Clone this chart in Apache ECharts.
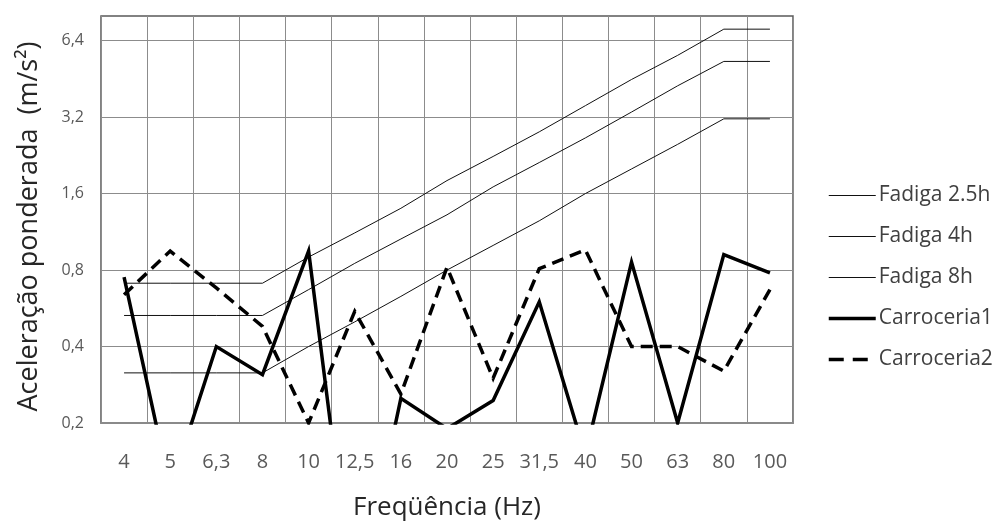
<!DOCTYPE html>
<html>
<head>
<meta charset="utf-8">
<script src="https://cdn.jsdelivr.net/npm/echarts@6/dist/echarts.min.js"></script>
<style>
html,body{margin:0;padding:0;background:#fff;}
#chart{width:998px;height:523px;}
</style>
</head>
<body>
<div id="chart"></div>
<script>
const categories = ['4','5','6,3','8','10','12,5','16','20','25','31,5','40','50','63','80','100'];
const yTicks = [0.2, 0.4, 0.8, 1.6, 3.2, 6.4];
const fadiga25 = [0.71,0.71,0.71,0.71,0.9,1.12,1.4,1.8,2.24,2.8,3.55,4.5,5.6,7.1,7.1];
const fadiga4  = [0.53,0.53,0.53,0.53,0.67,0.85,1.06,1.32,1.7,2.12,2.65,3.35,4.25,5.3,5.3];
const fadiga8  = [0.315,0.315,0.315,0.315,0.4,0.5,0.63,0.8,1.0,1.25,1.6,2.0,2.5,3.15,3.15];
const carroceria1 = [0.75,0.11,0.40,0.31,0.95,0.035,0.25,0.19,0.245,0.60,0.15,0.86,0.2,0.92,0.78];
const carroceria2 = [0.64,0.95,0.68,0.48,0.2,0.55,0.26,0.82,0.30,0.81,0.96,0.40,0.40,0.32,0.67];

const FONT = 'Open Sans';
const chart = echarts.init(document.getElementById('chart'), null, {renderer: 'canvas'});

function thin(name, data) {
  return {
    name, type: 'line', data, symbol: 'none', showSymbol: false,
    lineStyle: {color: '#111', width: 1, join: 'miter'}, itemStyle: {color: '#111'}
  };
}

chart.setOption({
  animation: false,
  backgroundColor: '#fff',
  textStyle: {fontFamily: FONT},
  grid: {left: 101, right: 205, top: 16, bottom: 100, show: true, outerBoundsMode: 'none', containLabel: false,
         borderColor: '#5a5a5a', borderWidth: 1.5, backgroundColor: 'transparent'},
  legend: {
    orient: 'vertical', left: 822, top: 180, itemWidth: 47, itemHeight: 20, itemGap: 20,
    itemStyle: {color: 'rgba(0,0,0,0)', borderColor: 'rgba(0,0,0,0)', borderWidth: 0, opacity: 0},
    textStyle: {fontFamily: FONT, fontSize: 21, color: '#404040', lineHeight: 20, padding: [0,0,0,-2]},
    data: [
      {name: 'Fadiga 2.5h', lineStyle: {width: 1, color: '#111'}},
      {name: 'Fadiga 4h', lineStyle: {width: 1, color: '#111'}},
      {name: 'Fadiga 8h', lineStyle: {width: 1, color: '#111'}},
      {name: 'Carroceria1', lineStyle: {width: 3.5, color: '#000'}},
      {name: 'Carroceria2', lineStyle: {width: 3.5, color: '#000', type: [15, 9]}}
    ]
  },
  xAxis: {
    type: 'category', data: categories, boundaryGap: true,
    name: 'Freqüência (Hz)', nameLocation: 'middle', nameGap: 72,
    nameTextStyle: {fontFamily: FONT, fontSize: 26, color: '#262626'},
    axisLine: {show: true, lineStyle: {color: '#8a8a8a', width: 2}},
    axisTick: {show: false},
    axisLabel: {interval: 0, margin: 29, fontFamily: FONT, fontSize: 20, color: '#595959'},
    splitLine: {show: true, interval: 0, lineStyle: {color: '#8c8c8c', width: 1}}
  },
  yAxis: {
    type: 'log', logBase: 2, min: 0.2, max: 8,
    name: 'Aceleração ponderada  (m/s²)', nameLocation: 'middle', nameGap: 58, nameRotate: 90,
    nameTextStyle: {fontFamily: FONT, fontSize: 27, color: '#262626', padding: [0, 14, 0, 0]},
    axisLine: {show: false},
    axisTick: {show: false, customValues: yTicks},
    axisLabel: {customValues: yTicks, margin: 17, fontFamily: FONT, fontSize: 16, color: '#595959',
      formatter: v => String(Math.round(v * 10) / 10).replace('.', ',')},
    splitLine: {show: true, lineStyle: {color: '#8c8c8c', width: 1}},
    minorSplitLine: {show: false}
  },
  series: [
    thin('Fadiga 2.5h', fadiga25),
    thin('Fadiga 4h', fadiga4),
    thin('Fadiga 8h', fadiga8),
    {name: 'Carroceria1', type: 'line', data: carroceria1, symbol: 'none', showSymbol: false,
     lineStyle: {color: '#000', width: 3.5, join: 'miter'}, itemStyle: {color: '#000'}},
    {name: 'Carroceria2', type: 'line', data: carroceria2, symbol: 'none', showSymbol: false,
     lineStyle: {color: '#000', width: 3.5, type: [12, 7], join: 'miter'}, itemStyle: {color: '#000'}}
  ]
});
</script>
</body>
</html>
